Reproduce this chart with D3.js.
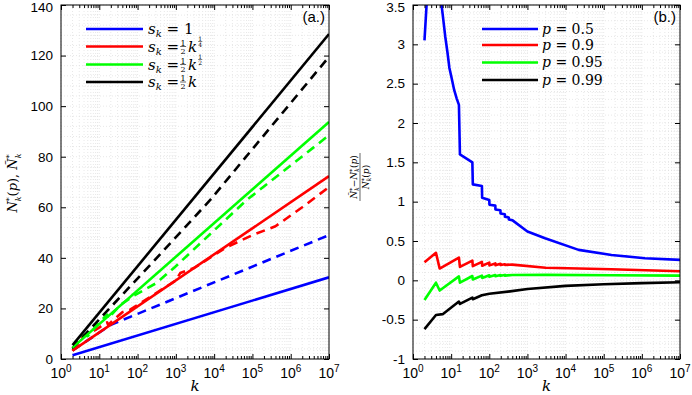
<!DOCTYPE html>
<html><head><meta charset="utf-8">
<script src="https://cdn.jsdelivr.net/npm/d3@7"></script>
<style>
body{margin:0;background:#fff;}
svg{display:block;}
</style></head>
<body><svg id="c" width="692" height="395"></svg>
<script>
// ---------- DATA ----------
// Panel (a): N*_k(p) (solid) and tilde N*_k (dashed) vs k
const colors = ["#0000ff","#ff0000","#00ff00","#000000"];
const aSolidK = [2, 1e7];
const aBlueSolid = [1.5, 32.3];
const aRedSolid = [3.3, 72.3];
const aGreenSolid = [4.5, 93.7];
const aBlackSolid = [5.5, 128.5];
const aBlueDashK = [2, 20, 1e7];
const aBlueDash = [3.4, 13.5, 49];
const aRedDashK = [2, 4, 5, 8, 16, 17, 40, 64, 300, 1000, 1300, 3000, 20000, 1e5, 4e5, 2e6, 1e7];
const aRedDash = [3.3, 9.5, 9.8, 11.5, 14.5, 13.5, 18.5, 19.5, 26, 31, 34, 36, 44, 49, 52.5, 60, 68];
const aGreenDashK = [2, 4, 5, 10, 16, 17, 36, 85, 300, 950, 7e4, 1e7];
const aGreenDash = [4.0, 9.5, 9.0, 14.5, 17.5, 16, 21.5, 25.3, 29.9, 36.4, 62.8, 88.5];
const aBlackDashK = [2, 5, 280, 7800, 1e7];
const aBlackDash = [4.1, 10.8, 39.1, 62.8, 119.5];
const aLegend = ["1", "k14", "k12", "k"];

// Panel (b): relative difference vs k
const bBlueK = [2, 3, 4, 5, 6, 7, 8, 9, 10, 12, 14, 16, 17, 36, 37, 64, 65, 100, 101, 144, 145, 196, 197, 256, 257, 324, 325, 400, 1000, 2900, 22000, 1.6e5, 1.2e6, 1e7];
const bBlue = [3.05, 4.5, 4.0, 3.7, 3.38, 3.1, 2.9, 2.7, 2.6, 2.42, 2.31, 2.23, 1.6, 1.5, 1.22, 1.2, 1.05, 1.02, 0.96, 0.95, 0.9, 0.89, 0.85, 0.84, 0.81, 0.8, 0.775, 0.765, 0.62, 0.535, 0.387, 0.323, 0.28, 0.26];
const bRedK = [2, 4, 5, 16, 17, 36, 37, 64, 65, 100, 101, 144, 145, 196, 197, 256, 257, 400, 3000, 1.6e5, 1e7];
const bRed = [0.23, 0.35, 0.15, 0.29, 0.17, 0.25, 0.18, 0.235, 0.185, 0.225, 0.19, 0.215, 0.193, 0.21, 0.195, 0.205, 0.197, 0.2, 0.16, 0.14, 0.115];
const bGreenK = [2, 4, 5, 16, 17, 36, 37, 64, 65, 100, 101, 144, 145, 196, 197, 256, 257, 400, 3000, 1.6e5, 1e7];
const bGreen = [-0.25, -0.03, -0.13, 0.05, -0.03, 0.055, 0.01, 0.06, 0.03, 0.065, 0.045, 0.067, 0.052, 0.068, 0.057, 0.069, 0.06, 0.068, 0.07, 0.065, 0.06];
const bBlackK = [2, 4, 6, 16, 17, 36, 37, 64, 100, 350, 1000, 1e4, 1e5, 1e6, 1e7];
const bBlack = [-0.62, -0.44, -0.43, -0.27, -0.3, -0.22, -0.24, -0.19, -0.17, -0.14, -0.11, -0.07, -0.05, -0.035, -0.025];
const bLegend = ["0.5", "0.9", "0.95", "0.99"];

const xDomain = [1, 1e7];
const xTickExp = [0,1,2,3,4,5,6,7];
const aYTicks = [0,20,40,60,80,100,120,140];
const bYTicks = [-1,-0.5,0,0.5,1,1.5,2,2.5,3,3.5];

// ---------- DRAW ----------
const svg = d3.select("#c");
const zip = (ks, vs) => ks.map((k,i)=>[k, vs[i]]);
const fontSans = '"Liberation Sans", Arial, sans-serif';
const fontSerif = '"DejaVu Serif","Liberation Serif", serif';

function panel(opt){
  const x = d3.scaleLog().domain(xDomain).range([opt.x0, opt.x1]);
  const y = d3.scaleLinear().domain(opt.yDomain).range([opt.y1, opt.y0]);
  const g = svg.append("g");
  const cid = "clip"+opt.id;
  svg.append("clipPath").attr("id", cid).append("rect")
     .attr("x", opt.x0).attr("y", opt.y0).attr("width", opt.x1-opt.x0).attr("height", opt.y1-opt.y0);
  const minor = [];
  for (let e=0;e<7;e++) for (let m=1;m<10;m++) minor.push(m*Math.pow(10,e));
  minor.push(1e7);
  const gg = g.append("g").attr("stroke","#d9d9d9").attr("stroke-width",0.6).attr("stroke-dasharray","1,2");
  minor.forEach(v=>{ gg.append("line").attr("x1",x(v)).attr("x2",x(v)).attr("y1",opt.y0).attr("y2",opt.y1);});
  const yMinor = d3.range(opt.yDomain[0], opt.yDomain[1]+1e-9, opt.yMinorStep);
  yMinor.forEach(v=>{ gg.append("line").attr("x1",opt.x0).attr("x2",opt.x1).attr("y1",y(v)).attr("y2",y(v));});

  const line = d3.line().x(d=>x(d[0])).y(d=>y(d[1]));
  const lg = g.append("g").attr("clip-path",`url(#${cid})`);
  opt.series.forEach(s=>{
    lg.append("path").datum(zip(s.k, s.v)).attr("d", line)
      .attr("fill","none").attr("stroke", s.color).attr("stroke-width", 2.6)
      .attr("stroke-linejoin","round")
      .attr("stroke-dasharray", s.dash ? "9,6" : null);
  });

  const fmtExp = ()=>"";
  const majors = xTickExp.map(e=>Math.pow(10,e));
  const minors = minor.filter(v=>!majors.some(m=>Math.abs(m-v)<1e-6));
  const bottom = d3.axisBottom(x).tickValues(majors).tickSizeInner(-5).tickSizeOuter(0).tickFormat(fmtExp);
  const bMinor = d3.axisBottom(x).tickValues(minors).tickSizeInner(-3).tickSizeOuter(0).tickFormat(fmtExp);
  const top = d3.axisTop(x).tickValues(majors).tickSizeInner(-5).tickSizeOuter(0).tickFormat(fmtExp);
  const tMinor = d3.axisTop(x).tickValues(minors).tickSizeInner(-3).tickSizeOuter(0).tickFormat(fmtExp);
  const left = d3.axisLeft(y).tickValues(opt.yTicks).tickSizeInner(-5).tickSizeOuter(0).tickPadding(8).tickFormat(d=>String(d));
  const right = d3.axisRight(y).tickValues(opt.yTicks).tickSizeInner(-5).tickSizeOuter(0).tickFormat(()=>"");
  const styl = sel=>{ sel.selectAll("line").attr("stroke","#000"); sel.select(".domain").remove(); };
  g.append("g").attr("transform",`translate(0,${opt.y1})`).call(bottom).call(styl);
  g.append("g").attr("transform",`translate(0,${opt.y1})`).call(bMinor).call(styl);
  g.append("g").attr("transform",`translate(0,${opt.y0})`).call(top).call(styl);
  g.append("g").attr("transform",`translate(0,${opt.y0})`).call(tMinor).call(styl);
  const gl = g.append("g").attr("transform",`translate(${opt.x0},0)`).call(left).call(styl);
  gl.selectAll("text").attr("font-size",13.5).attr("font-family",fontSans).attr("fill","#000");
  gl.selectAll(".tick").filter(d=>d===opt.yDomain[1]).select("text").attr("dy","0.5em");
  g.append("g").attr("transform",`translate(${opt.x1},0)`).call(right).call(styl);
  xTickExp.forEach(e=>{
    const t = g.append("text").attr("x", x(Math.pow(10,e))).attr("y", opt.y1+19)
      .attr("text-anchor","middle").attr("font-family",fontSans).attr("font-size",14);
    t.append("tspan").text("10");
    t.append("tspan").attr("dy",-6).attr("font-size",10).text(String(e));
  });
  g.append("rect").attr("x",opt.x0).attr("y",opt.y0).attr("width",opt.x1-opt.x0).attr("height",opt.y1-opt.y0)
    .attr("fill","none").attr("stroke","#000").attr("stroke-width",1);
  g.append("text").attr("x",(opt.x0+opt.x1)/2).attr("y",391).attr("text-anchor","middle")
    .attr("font-family",fontSerif).attr("font-style","italic").attr("font-size",15).text("k");
  g.append("text").attr("x",opt.x1-4).attr("y",opt.y0+17).attr("text-anchor","end")
    .attr("font-family",fontSans).attr("font-size",15).text(opt.tag);
  return {x,y,g};
}

panel({id:"a", x0:61, x1:329, y0:5, y1:359, yDomain:[0,140], yTicks:aYTicks, yMinorStep:4, tag:"(a.)",
  series:[
    {k:aBlueDashK, v:aBlueDash, color:colors[0], dash:true},
    {k:aRedDashK, v:aRedDash, color:colors[1], dash:true},
    {k:aGreenDashK, v:aGreenDash, color:colors[2], dash:true},
    {k:aBlackDashK, v:aBlackDash, color:colors[3], dash:true},
    {k:aSolidK, v:aBlueSolid, color:colors[0]},
    {k:aSolidK, v:aRedSolid, color:colors[1]},
    {k:aSolidK, v:aGreenSolid, color:colors[2]},
    {k:aSolidK, v:aBlackSolid, color:colors[3]},
  ]});
panel({id:"b", x0:413, x1:680, y0:5, y1:359, yDomain:[-1,3.5], yTicks:bYTicks, yMinorStep:0.1, tag:"(b.)",
  series:[
    {k:bBlueK, v:bBlue, color:colors[0]},
    {k:bRedK, v:bRed, color:colors[1]},
    {k:bGreenK, v:bGreen, color:colors[2]},
    {k:bBlackK, v:bBlack, color:colors[3]},
  ]});

// legend (a)
const legA = svg.append("g");
const legAY = [29, 46.5, 64.5, 82];
aLegend.forEach((L,i)=>{
  const yy = legAY[i];
  legA.append("line").attr("x1",86).attr("x2",143).attr("y1",yy).attr("y2",yy).attr("stroke",colors[i]).attr("stroke-width",2.6);
  const t = legA.append("text").attr("x",148).attr("y",yy+5).attr("font-family",fontSerif).attr("font-size",15);
  t.append("tspan").attr("font-style","italic").text("s");
  t.append("tspan").attr("font-style","italic").attr("font-size",10).attr("dy",3).text("k");
  t.append("tspan").attr("dy",-3).text(" = ");
  if (L==="1"){ t.append("tspan").text("1"); return; }
  const w = t.node().getComputedTextLength();
  const fx = 148 + w + 1;
  legA.append("text").attr("x",fx+3).attr("y",yy-1).attr("text-anchor","middle").attr("font-family",fontSerif).attr("font-size",8).text("1");
  legA.append("line").attr("x1",fx).attr("x2",fx+6).attr("y1",yy).attr("y2",yy).attr("stroke","#000").attr("stroke-width",0.6);
  legA.append("text").attr("x",fx+3).attr("y",yy+7).attr("text-anchor","middle").attr("font-family",fontSerif).attr("font-size",8).text("2");
  const kt = legA.append("text").attr("x",fx+8).attr("y",yy+5).attr("font-family",fontSerif).attr("font-size",15).attr("font-style","italic").text("k");
  if (L!=="k"){
    const kw = kt.node().getComputedTextLength();
    const ex = fx+8+kw+3;
    legA.append("text").attr("x",ex).attr("y",yy-6).attr("text-anchor","middle").attr("font-family",fontSerif).attr("font-size",6).text("1");
    legA.append("line").attr("x1",ex-2).attr("x2",ex+2).attr("y1",yy-5).attr("y2",yy-5).attr("stroke","#000").attr("stroke-width",0.5);
    legA.append("text").attr("x",ex).attr("y",yy).attr("text-anchor","middle").attr("font-family",fontSerif).attr("font-size",6).text(L==="k14"?"4":"2");
  }
});

// legend (b)
const legBY = [29, 45, 62.5, 80];
bLegend.forEach((L,i)=>{
  const yy = legBY[i];
  svg.append("line").attr("x1",482).attr("x2",538).attr("y1",yy).attr("y2",yy).attr("stroke",colors[i]).attr("stroke-width",2.6);
  const t = svg.append("text").attr("x",542).attr("y",yy+4.5).attr("font-family",fontSerif).attr("font-size",14);
  t.append("tspan").attr("font-style","italic").text("p");
  t.append("tspan").text(" = " + L);
});

// y label (a)
const ya = svg.append("text").attr("transform","translate(17,183) rotate(-90)").attr("text-anchor","middle")
  .attr("font-family",fontSerif).attr("font-size",13);
ya.append("tspan").attr("font-style","italic").text("N");
ya.append("tspan").attr("font-size",8).attr("dy",-5).text("*");
ya.append("tspan").attr("font-size",8).attr("font-style","italic").attr("dy",9).attr("dx",-4).text("k");
ya.append("tspan").attr("dy",-4).text("(");
ya.append("tspan").attr("font-style","italic").text("p");
ya.append("tspan").text("), ");
ya.append("tspan").attr("font-style","italic").text("Ñ");
ya.append("tspan").attr("font-size",8).attr("dy",-5).text("*");
ya.append("tspan").attr("font-size",8).attr("font-style","italic").attr("dy",9).attr("dx",-4).text("k");

// y label (b): fraction
const yb = svg.append("g").attr("transform","translate(360,177) rotate(-90)");
const num = yb.append("text").attr("x",0).attr("y",-3).attr("text-anchor","middle").attr("font-family",fontSerif).attr("font-size",9);
num.append("tspan").attr("font-style","italic").text("Ñ");
num.append("tspan").attr("font-size",6).attr("dy",-3).text("*");
num.append("tspan").attr("font-size",6).attr("font-style","italic").attr("dy",5).attr("dx",-3).text("k");
num.append("tspan").attr("dy",-2).text("−");
num.append("tspan").attr("font-style","italic").text("N");
num.append("tspan").attr("font-size",6).attr("dy",-3).text("*");
num.append("tspan").attr("font-size",6).attr("font-style","italic").attr("dy",5).attr("dx",-3).text("k");
num.append("tspan").attr("dy",-2).text("(");
num.append("tspan").attr("font-style","italic").text("p");
num.append("tspan").text(")");
yb.append("line").attr("x1",-24).attr("x2",24).attr("y1",0).attr("y2",0).attr("stroke","#000").attr("stroke-width",0.6);
const den = yb.append("text").attr("x",0).attr("y",9).attr("text-anchor","middle").attr("font-family",fontSerif).attr("font-size",9);
den.append("tspan").attr("font-style","italic").text("N");
den.append("tspan").attr("font-size",6).attr("dy",-3).text("*");
den.append("tspan").attr("font-size",6).attr("font-style","italic").attr("dy",5).attr("dx",-3).text("k");
den.append("tspan").attr("dy",-2).text("(");
den.append("tspan").attr("font-style","italic").text("p");
den.append("tspan").text(")");
</script></body></html>
